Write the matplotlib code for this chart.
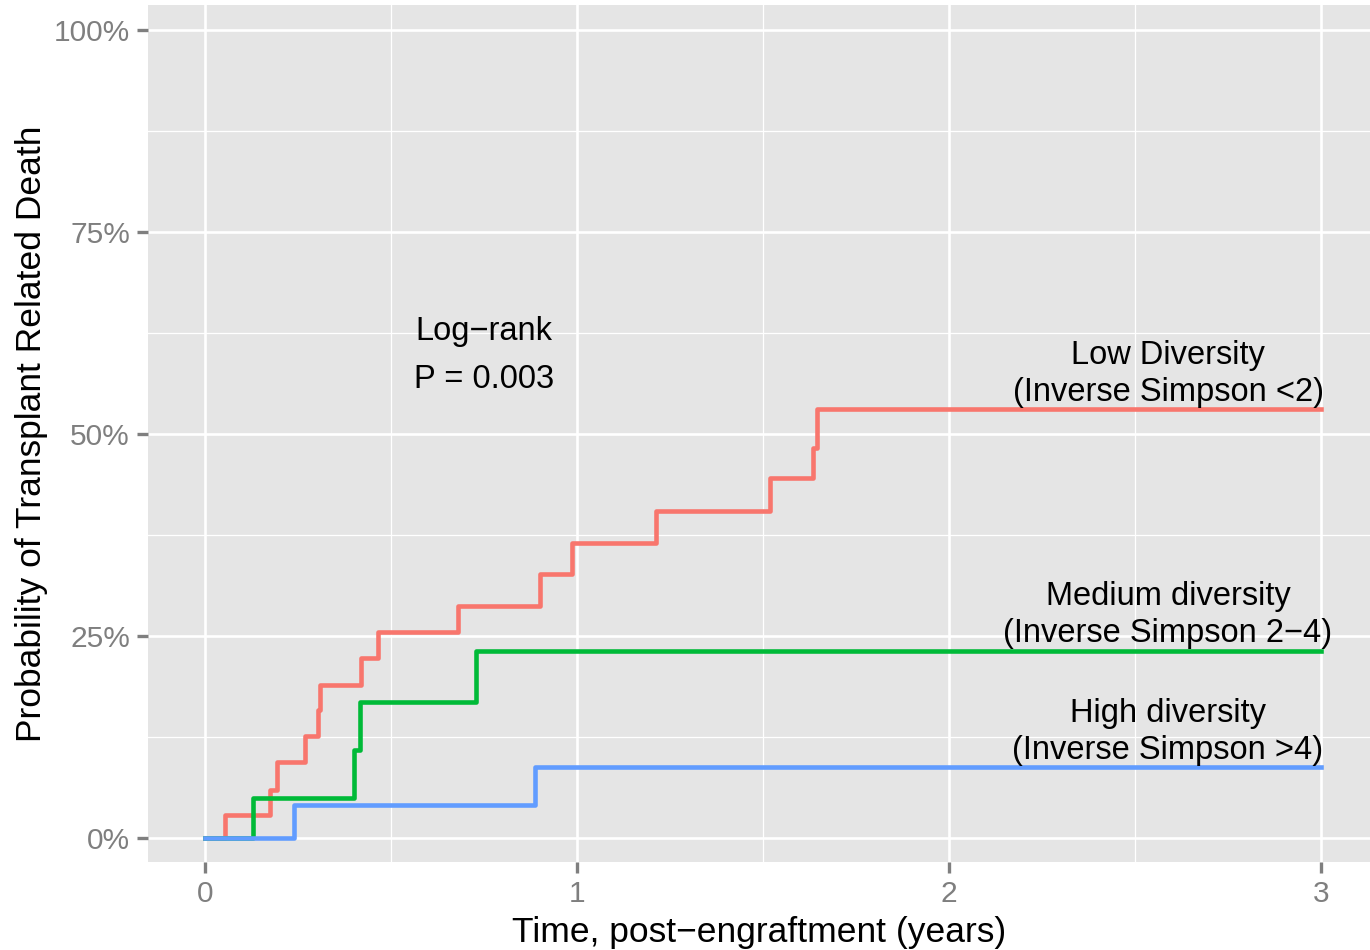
"""
Cumulative incidence of transplant related death by intestinal diversity group.
"""

import matplotlib
matplotlib.use("Agg")
import matplotlib.pyplot as plt

# Step curves (time in years, probability in %)
low_time = [0, 0.054, 0.175, 0.194, 0.269, 0.303, 0.309, 0.421, 0.465, 0.680,
            0.900, 0.988, 1.214, 1.520, 1.635, 1.645, 3.0]
low_prob = [0, 2.9, 5.9, 9.4, 12.6, 15.8, 18.9, 22.3, 25.5, 28.7,
            32.7, 36.5, 40.5, 44.5, 48.3, 53.1, 53.1]

medium_time = [0, 0.130, 0.400, 0.418, 0.728, 3.0]
medium_prob = [0, 5.0, 10.9, 16.8, 23.2, 23.2]

high_time = [0, 0.239, 0.887, 3.0]
high_prob = [0, 4.1, 8.8, 8.8]

x_ticks = [0, 1, 2, 3]
y_ticks = [0, 25, 50, 75, 100]
y_tick_labels = ["0%", "25%", "50%", "75%", "100%"]

group_labels = [
    "Low Diversity\n(Inverse Simpson <2)",
    "Medium diversity\n(Inverse Simpson 2\u22124)",
    "High diversity\n(Inverse Simpson >4)",
]


def _main():
    plt.rcParams["font.family"] = ["Liberation Sans", "DejaVu Sans"]

    fig = plt.figure(figsize=(13.7, 9.5), dpi=100)
    ax = fig.add_axes([0.108, 0.0926, 0.892, 0.9021])
    ax.set_facecolor("#E5E5E5")

    # grid, ggplot2 style
    for x in [0.5, 1.5, 2.5]:
        ax.axvline(x, color="white", lw=0.9, zorder=0)
    for y in [12.5, 37.5, 62.5, 87.5]:
        ax.axhline(y, color="white", lw=0.9, zorder=0)
    for x in x_ticks:
        ax.axvline(x, color="white", lw=1.9, zorder=0)
    for y in y_ticks:
        ax.axhline(y, color="white", lw=1.9, zorder=0)

    ax.step(low_time, low_prob, where="post", color="#F8766D", lw=3.3, zorder=3)
    ax.step(medium_time, medium_prob, where="post", color="#00BA38", lw=3.3, zorder=3)
    ax.step(high_time, high_prob, where="post", color="#619CFF", lw=3.3, zorder=3)

    ax.set_xlim(-0.153, 3.132)
    ax.set_ylim(-2.97, 103.1)

    ax.set_xticks(x_ticks)
    ax.set_yticks(y_ticks)
    ax.set_yticklabels(y_tick_labels)
    ax.tick_params(axis="both", colors="#7F7F7F", labelsize=21.5, length=8, width=2.4,
                   direction="out")
    ax.tick_params(axis="x", pad=5)
    ax.tick_params(axis="y", pad=5)
    for spine in ax.spines.values():
        spine.set_visible(False)

    ax.set_xlabel("Time, post\u2212engraftment (years)", fontsize=25.5, color="black",
                  labelpad=6)
    ax.set_ylabel("Probability of Transplant Related Death", fontsize=25.5,
                  color="black", labelpad=4)

    # annotations
    ax.text(0.75, 62.7, "Log\u2212rank", fontsize=23.5, ha="center", va="center")
    ax.text(0.75, 56.8, "P = 0.003", fontsize=23.5, ha="center", va="center")

    label_y = [57.4, 27.6, 13.1]
    for text, y in zip(group_labels, label_y):
        ax.text(2.589, y, text, fontsize=23.5, ha="center", va="center",
                linespacing=1.25)

    fig.savefig("out.png", dpi=100)


if __name__ == "__main__":
    _main()
